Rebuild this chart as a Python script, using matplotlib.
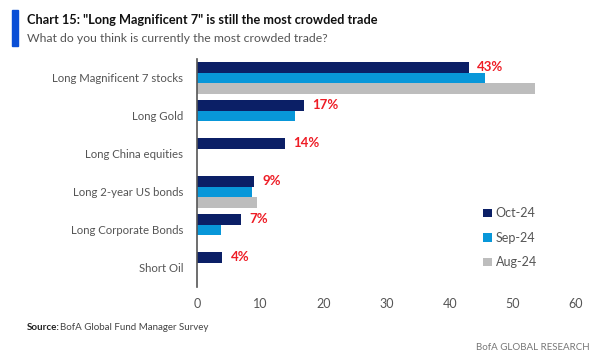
import numpy as np
import matplotlib.pyplot as plt
from matplotlib.patches import Rectangle

plt.rcParams['font.family'] = ['Lato', 'DejaVu Sans']

categories = ["Long Magnificent 7 stocks", "Long Gold", "Long China equities",
              "Long 2-year US bonds", "Long Corporate Bonds", "Short Oil"]
oct24 = [43, 17, 14, 9, 7, 4]
sep24 = [45.6, 15.5, 0, 8.7, 3.8, 0]
aug24 = [53.5, 0, 0, 9.5, 0, 0]
series_names = ["Oct-24", "Sep-24", "Aug-24"]
colors = ["#0b1f66", "#0897d9", "#bdbdbd"]

fig = plt.figure(figsize=(6.04, 3.64), dpi=100)
ax = fig.add_axes([197/604, 1-287/364, (576-197)/604, (287-59)/364])

y = np.arange(len(categories))
h = 0.28
for i, (vals, name, c) in enumerate(zip([oct24, sep24, aug24], series_names, colors)):
    ax.barh(y + (i-1)*h, vals, height=h, color=c, label=name)

for yi, v in zip(y, oct24):
    ax.text(v + 1.3, yi - h, f"{v}%", color="#ee1c25", fontsize=9.5,
            va="center", ha="left", fontweight="bold")

ax.set_ylim(len(categories)-0.5, -0.5)
ax.set_xlim(0, 60)
ax.set_xticks(range(0, 61, 10))
ax.set_yticks(y)
ax.set_yticklabels(categories)
ax.tick_params(axis="both", length=0, labelsize=8.2, colors="#555555", pad=10)
ax.tick_params(axis="x", labelsize=9, pad=8)
for s in ["top", "right", "bottom"]:
    ax.spines[s].set_visible(False)
ax.spines["left"].set_color("#555555")
ax.spines["left"].set_linewidth(1.2)

leg = ax.legend(loc="center left", bbox_to_anchor=(0.725, 0.215), frameon=False,
                fontsize=9, handlelength=0.7, handleheight=0.7, handletextpad=0.3,
                labelspacing=1.0, labelcolor="#555555")

fig.patches.append(Rectangle((12/604, 1-46/364), 6/604, 36/364,
                             transform=fig.transFigure, color="#0a4fd6"))
fig.text(27/604, 1-20/364, 'Chart 15: "Long Magnificent 7" is still the most crowded trade',
         fontsize=9.2, fontweight="bold", color="#111111", va="center")
fig.text(27/604, 1-39/364, "What do you think is currently the most crowded trade?",
         fontsize=8.8, color="#555555", va="center")
fig.text(27/604, 1-327/364, "Source:", fontsize=7, fontweight="bold",
         color="#222222", va="center")
fig.text(60/604, 1-327/364, "BofA Global Fund Manager Survey",
         fontsize=7, color="#444444", va="center")
fig.text(590/604, 1-348/364, "BofA GLOBAL RESEARCH", fontsize=7, color="#777777",
         va="center", ha="right")

fig.savefig("out.png", dpi=100)
